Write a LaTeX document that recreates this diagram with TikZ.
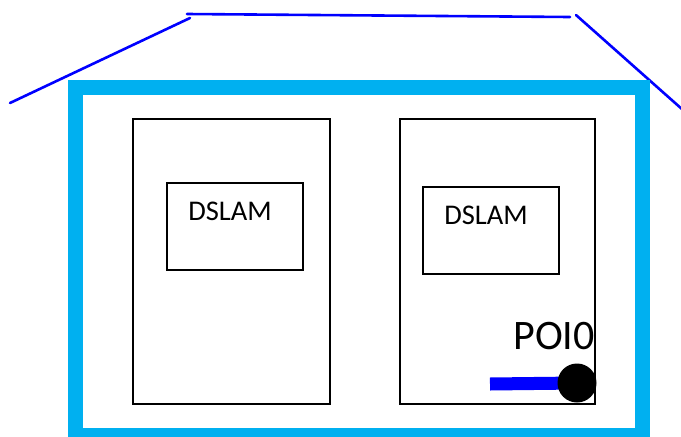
\documentclass[tikz,border=0pt]{standalone}
\usepackage{fontspec}
\setmainfont{Carlito}
\definecolor{framecyan}{HTML}{00B0F0}
\definecolor{roofblue}{HTML}{0000FF}
\tikzset{
  roofline/.style={draw=roofblue, line width=2.6pt, line cap=round},
  rackline/.style={draw=black, line width=1.8pt},
  labeltext/.style={inner sep=0pt, font=\fontsize{28.5}{31}\selectfont},
}
\begin{document}
\begin{tikzpicture}[x=1pt, y=-1pt]
  \useasboundingbox (0,0) rectangle (681,437);
  % roof
  \coordinate (rl) at (10,103);
  \coordinate (rlt) at (190,18);
  \coordinate (rtl) at (187,14);
  \coordinate (rtr) at (570,17);
  \coordinate (rrt) at (576,15);
  \coordinate (rr) at (683,110);
  \draw[roofline] (rl) -- (rlt);
  \draw[roofline] (rtl) -- (rtr);
  \draw[roofline] (rrt) -- (rr);
  % building outline
  \draw[framecyan, line width=15pt] (75,87) rectangle (642.5,435);
  % left rack with its DSLAM
  \draw[rackline] (133,119) rectangle (330,404);
  \draw[rackline] (167,183) rectangle (303,270);
  \node[labeltext] (dslamA) at (230,211) {DSLAM};
  % right rack with its DSLAM
  \draw[rackline] (400,119) rectangle (595,404);
  \draw[rackline] (423,187) rectangle (559,274);
  \node[labeltext] (dslamB) at (486,215) {DSLAM};
  % point of interconnection
  \node[inner sep=0pt, anchor=south east, font=\fontsize{42}{46}\selectfont] (poi) at (595,350) {POI0};
  \coordinate (portc) at (577,383);
  \coordinate (lead) at (490,384);
  \draw[roofblue, line width=13pt] (lead) -- (portc);
  \node[circle, fill=black, minimum size=39pt, inner sep=0pt] (port) at (portc) {};
\end{tikzpicture}
\end{document}
